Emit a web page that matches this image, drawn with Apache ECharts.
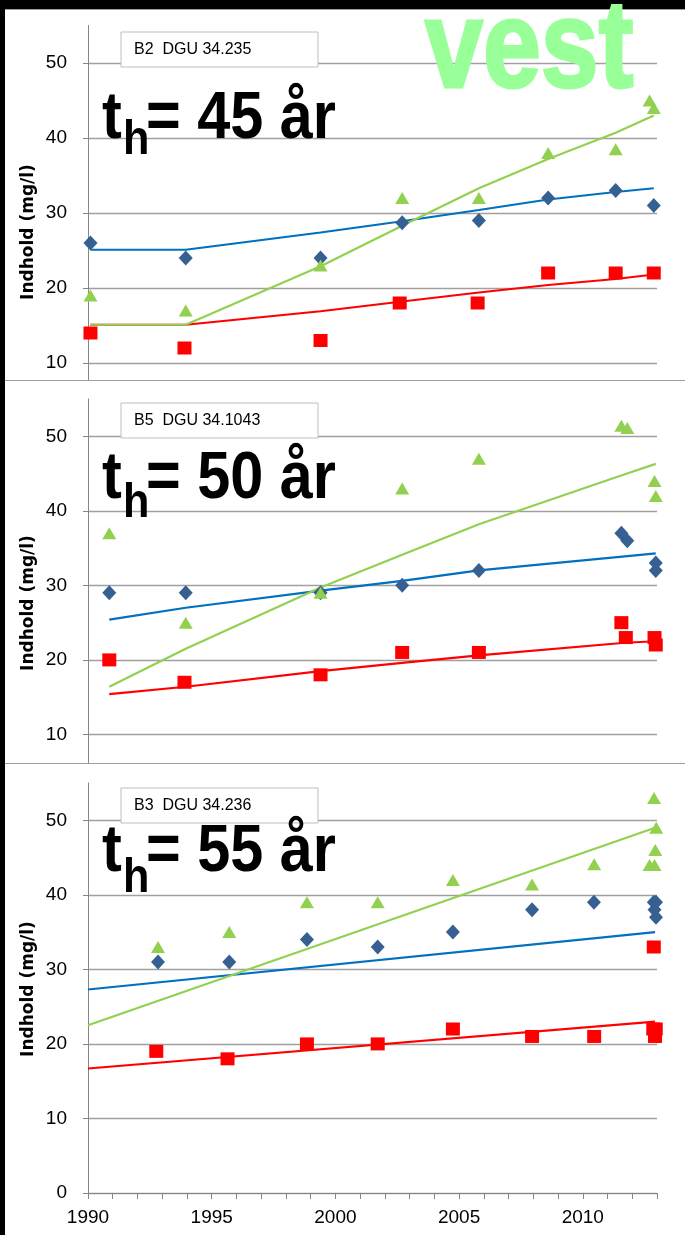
<!DOCTYPE html>
<html><head><meta charset="utf-8">
<script src="https://cdn.jsdelivr.net/npm/echarts@6/dist/echarts.min.js"></script>
<style>
html,body{margin:0;padding:0;background:#000;width:685px;height:1235px;overflow:hidden;}
.panel{position:absolute;left:5px;right:0;background:#fff;}
.sep{position:absolute;left:5px;right:0;height:1px;background:#a0a0a0;}
.chart{position:absolute;left:0;top:0;width:685px;height:1235px;}
</style></head><body>
<div class="panel" style="top:9px;height:371px"></div>
<div class="panel" style="top:380px;height:383px"></div>
<div class="panel" style="top:763px;height:472px"></div>
<div class="sep" style="top:9px"></div>
<div class="sep" style="top:380px"></div>
<div class="sep" style="top:763px"></div>
<div id="c1" class="chart" style="clip-path:inset(0 0 855px 0)"></div>
<div id="c2" class="chart" style="clip-path:inset(381px 0 472px 0)"></div>
<div id="c3" class="chart" style="clip-path:inset(764px 0 0 0)"></div>
<script>
// ---------- tick labels / texts ----------
const yTickValues = [0, 10, 20, 30, 40, 50];
const xLabelYears = [1990, 1995, 2000, 2005, 2010];
const panelTitles = ['B2  DGU 34.235', 'B5  DGU 34.1043', 'B3  DGU 34.236'];
const thLabels = ['= 45 år', '= 50 år', '= 55 år'];
const yAxisTitle = 'Indhold (mg/l)';
const cornerLabel = 'vest';

// ---------- Panel 1: B2 DGU 34.235 ----------
const b2BlueX  = [1990.1, 1993.95, 1999.4, 2002.7, 2005.8, 2008.6, 2011.33, 2012.87];
const b2BlueY  = [26, 24, 24, 28.7, 29, 32, 33, 31];
const b2GreenX = [1990.1, 1993.95, 1999.4, 2002.7, 2005.8, 2008.6, 2011.33, 2012.7, 2012.87];
const b2GreenY = [19, 17, 23, 32, 32, 38, 38.5, 45, 44];
const b2RedX   = [1990.1, 1993.9, 1999.4, 2002.6, 2005.75, 2008.6, 2011.33, 2012.87];
const b2RedY   = [14, 12, 13, 18, 18, 22, 22, 22];
const b2TrendX     = [1990.1, 1993.95, 1999.4, 2002.7, 2005.8, 2008.6, 2011.33, 2012.87];
const b2BlueTrend  = [25.1, 25.1, 27.4, 28.9, 30.4, 31.8, 32.8, 33.3];
const b2GreenTrend = [15.1, 15.1, 22.9, 28.3, 33.3, 37.2, 40.7, 43.0];
const b2RedTrend   = [15.1, 15.1, 16.9, 18.2, 19.4, 20.4, 21.2, 21.8];

// ---------- Panel 2: B5 DGU 34.1043 ----------
const b5BlueX  = [1990.86, 1993.95, 1999.4, 2002.7, 2005.8, 2011.56, 2011.8, 2012.95, 2012.95];
const b5BlueY  = [29, 29, 29, 30, 32, 37, 36, 33, 32];
const b5GreenX = [1990.86, 1993.95, 1999.4, 2002.7, 2005.8, 2011.56, 2011.8, 2012.9, 2012.95];
const b5GreenY = [37, 25, 29, 43, 47, 51.4, 51.1, 44, 42];
const b5RedX   = [1990.86, 1993.9, 1999.4, 2002.7, 2005.8, 2011.56, 2011.74, 2012.9, 2012.95];
const b5RedY   = [20, 17, 18, 21, 21, 25, 23, 23, 22];
const b5TrendX     = [1990.86, 1993.95, 1999.4, 2002.7, 2005.8, 2011.7, 2012.95];
const b5BlueTrend  = [25.4, 27.0, 29.3, 30.6, 32.0, 33.9, 34.3];
const b5GreenTrend = [16.4, 21.5, 29.7, 34.1, 38.2, 44.9, 46.3];
const b5RedTrend   = [15.4, 16.4, 18.5, 19.6, 20.6, 22.3, 22.5];

// ---------- Panel 3: B3 DGU 34.236 ----------
const b3BlueX  = [1992.83, 1995.71, 1998.85, 2001.71, 2004.75, 2007.95, 2010.45, 2012.87, 2012.96, 2012.9, 2012.96];
const b3BlueY  = [31, 31, 34, 33, 35, 38, 39, 39, 39, 38, 37];
const b3GreenX = [1992.83, 1995.71, 1998.85, 2001.71, 2004.75, 2007.95, 2010.46, 2012.7, 2012.9, 2012.93, 2012.97, 2012.88];
const b3GreenY = [33, 35, 39, 39, 42, 41.4, 44.1, 44, 44, 46, 49, 53];
const b3RedX   = [1992.76, 1995.64, 1998.85, 2001.71, 2004.75, 2007.95, 2010.46, 2012.87, 2012.85, 2012.95, 2012.92];
const b3RedY   = [19, 18, 20, 20, 22, 21, 21, 33, 22, 22, 21];
const b3TrendX     = [1990, 2012.92];
const b3BlueTrend  = [27.3, 35.0];
const b3GreenTrend = [22.5, 49.0];
const b3RedTrend   = [16.7, 23.0];

// ---------- styling ----------
const C = { diamond: '#376092', tri: '#92D050', sq: '#FF0000', blueLine: '#0070C0', greenLine: '#92D050', redLine: '#FF0000', grid: '#A0A0A0', axis: '#868686' };
const tickFont = "'Liberation Sans Narrow', 'Liberation Sans', sans-serif";

function pairs(xs, ys) { return xs.map((x, i) => [x, ys[i]]); }

function lineSeries(xs, ys, color) {
  return { type: 'line', data: pairs(xs, ys), symbol: 'none', silent: true, z: 2,
           lineStyle: { color: color, width: 2.2 } };
}
function scatterSeries(xs, ys, symbol, size, color) {
  return { type: 'scatter', data: pairs(xs, ys), symbol: symbol, symbolSize: size, z: 3,
           itemStyle: { color: color, opacity: 1 } };
}

function buildOption(p) {
  const g = [];
  g.push({ type: 'rect', z: 10, shape: { x: 121, y: p.boxY, width: 197, height: 35 },
           style: { fill: '#fff', stroke: '#BFBFBF', lineWidth: 1 } });
  g.push({ type: 'text', z: 11, x: 134, y: p.boxY + 18,
           style: { text: p.title, font: "16px 'Liberation Sans', sans-serif", fill: '#000',
                    align: 'left', verticalAlign: 'middle', textAlign: 'left', textVerticalAlign: 'middle' } });
  const bigFont = "bold 66px 'Liberation Sans', Arial, sans-serif";
  g.push({ type: 'text', z: 11, x: 102, y: p.base - 23, scaleX: 0.9,
           style: { text: 't', font: bigFont, fill: '#000', align: 'left', verticalAlign: 'middle', textAlign: 'left', textVerticalAlign: 'middle' } });
  g.push({ type: 'text', z: 11, x: 123, y: p.hBase - 16, scaleX: 0.9,
           style: { text: 'h', font: "bold 48px 'Liberation Sans', Arial, sans-serif", fill: '#000', align: 'left', verticalAlign: 'middle', textAlign: 'left', textVerticalAlign: 'middle' } });
  g.push({ type: 'text', z: 11, x: 146, y: p.base - 23, scaleX: 0.9,
           style: { text: p.th, font: bigFont, fill: '#000', align: 'left', verticalAlign: 'middle', textAlign: 'left', textVerticalAlign: 'middle' } });
  g.push({ type: 'text', z: 11, x: 29, y: p.titleY, rotation: Math.PI / 2,
           style: { text: yAxisTitle, font: "bold 17px 'DejaVu Sans', sans-serif", fill: '#000',
                    align: 'center', verticalAlign: 'middle', textAlign: 'center', textVerticalAlign: 'middle' } });
  if (p.vest) {
    g.push({ type: 'text', z: 20, x: 425, y: 53, scaleX: 0.84,
             style: { text: cornerLabel, font: "bold 124px 'Liberation Sans', Arial, sans-serif", fill: '#99FF99',
                      stroke: '#99FF99', lineWidth: 3,
                      align: 'left', verticalAlign: 'middle', textAlign: 'left', textVerticalAlign: 'middle' } });
  }
  return {
    backgroundColor: 'transparent',
    animation: false,
    grid: { left: 88, width: 569, top: p.top, height: p.height },
    xAxis: {
      type: 'value', min: 1990, max: 2013, interval: 1, show: p.showX,
      axisLine: { show: true, lineStyle: { color: C.axis, width: 1 } },
      axisTick: { show: true, length: 6, lineStyle: { color: C.axis } },
      splitLine: { show: false },
      axisLabel: { customValues: xLabelYears, formatter: v => String(v), color: '#000', fontFamily: tickFont, fontSize: 19, margin: 15 }
    },
    yAxis: {
      type: 'value', min: 0, max: 55, interval: 10,
      axisLine: { show: true, lineStyle: { color: C.axis, width: 1 } },
      axisTick: { show: true, length: 5, customValues: yTickValues, lineStyle: { color: C.axis } },
      axisLabel: { customValues: yTickValues, formatter: v => String(v), color: '#000', fontFamily: tickFont, fontSize: 19, margin: 21 },
      splitLine: { show: true, lineStyle: { color: C.grid, width: 1.3 } }
    },
    series: [
      lineSeries(p.trendX, p.redTrend, C.redLine),
      lineSeries(p.trendX, p.blueTrend, C.blueLine),
      lineSeries(p.trendX, p.greenTrend, C.greenLine),
      scatterSeries(p.blueX, p.blueY, 'diamond', [14, 15], C.diamond),
      scatterSeries(p.redX, p.redY, 'rect', [14, 13], C.sq),
      scatterSeries(p.greenX, p.greenY, 'triangle', [14, 12], C.tri)
    ],
    graphic: g
  };
}

const panels = [
  { el: 'c1', top: 25.5, height: 412.5, showX: false, boxY: 32, base: 143, hBase: 157, titleY: 232, vest: true,
    title: panelTitles[0], th: thLabels[0],
    blueX: b2BlueX, blueY: b2BlueY, greenX: b2GreenX, greenY: b2GreenY, redX: b2RedX, redY: b2RedY,
    trendX: b2TrendX, blueTrend: b2BlueTrend, greenTrend: b2GreenTrend, redTrend: b2RedTrend },
  { el: 'c2', top: 399, height: 410, showX: false, boxY: 403, base: 503, hBase: 520, titleY: 603,
    title: panelTitles[1], th: thLabels[1],
    blueX: b5BlueX, blueY: b5BlueY, greenX: b5GreenX, greenY: b5GreenY, redX: b5RedX, redY: b5RedY,
    trendX: b5TrendX, blueTrend: b5BlueTrend, greenTrend: b5GreenTrend, redTrend: b5RedTrend },
  { el: 'c3', top: 783, height: 410, showX: true, boxY: 788, base: 876, hBase: 895, titleY: 989,
    title: panelTitles[2], th: thLabels[2],
    blueX: b3BlueX, blueY: b3BlueY, greenX: b3GreenX, greenY: b3GreenY, redX: b3RedX, redY: b3RedY,
    trendX: b3TrendX, blueTrend: b3BlueTrend, greenTrend: b3GreenTrend, redTrend: b3RedTrend }
];

panels.forEach(p => {
  const chart = echarts.init(document.getElementById(p.el), null, { renderer: 'canvas' });
  chart.setOption(buildOption(p));
});
</script>
</body></html>
